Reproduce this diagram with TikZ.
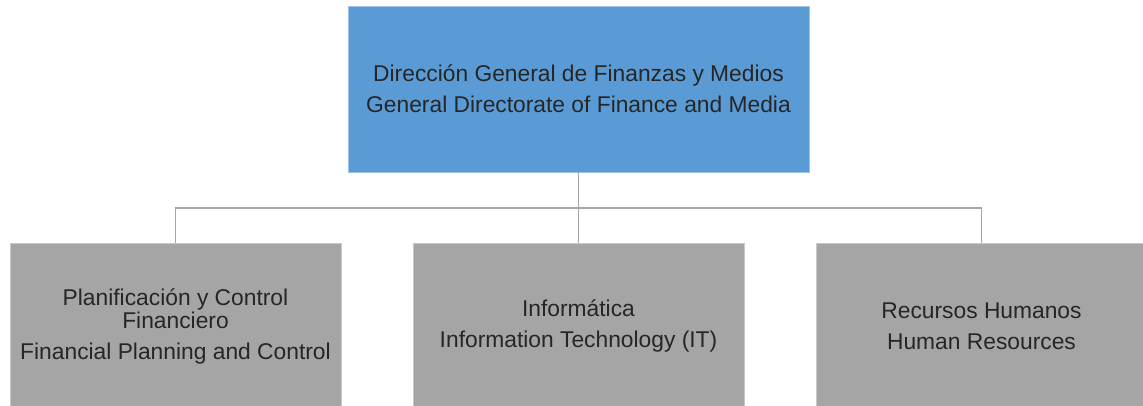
\documentclass[tikz,border=0pt]{standalone}
\usepackage{fontspec}
\setmainfont{Liberation Sans}
\definecolor{headblue}{HTML}{5B9BD5}
\definecolor{headedge}{HTML}{9DC3E6}
\definecolor{unitgray}{HTML}{A5A5A5}
\definecolor{unitedge}{HTML}{C9C9C9}
\definecolor{linkgray}{HTML}{A6A6A6}
\begin{document}
\begin{tikzpicture}[x=1pt, y=1pt,
  head/.style={draw=headedge, fill=headblue, align=center, minimum width=461pt, minimum height=166pt,
    text=black!85, font=\fontsize{22.8}{23}\selectfont},
  unit/.style={draw=unitedge, fill=unitgray, align=center, minimum width=331pt, minimum height=166pt,
    text=black!85, font=\fontsize{22.8}{23}\selectfont},
  link/.style={draw=linkgray, line width=1.6pt}]
\useasboundingbox (0,0) rectangle (1143,-405);
\node[head] (n1) at (578.5,-89) {Dirección General de Finanzas y Medios\\[8pt]General Directorate of Finance and Media};
\node[unit] (n2) at (175.5,-326) {Planificación y Control\\Financiero\\[8pt]Financial Planning and Control};
\node[unit] (n3) at (578.5,-326) {Informática\\[8pt]Information Technology (IT)};
\node[unit] (n4) at (981.5,-326) {Recursos Humanos\\[8pt]Human Resources};
\draw[link] (n1.south) -- ++(0,-36) -| (n2.north);
\draw[link] (n1.south) -- ++(0,-36) -| (n3.north);
\draw[link] (n1.south) -- ++(0,-36) -| (n4.north);
\end{tikzpicture}
\end{document}
